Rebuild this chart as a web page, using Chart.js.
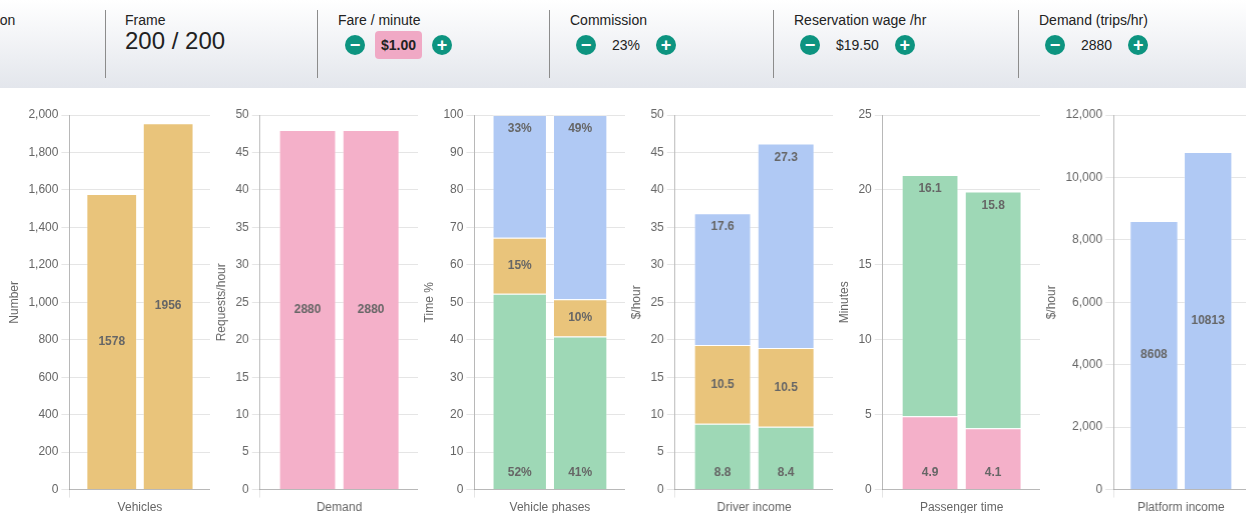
<!DOCTYPE html>
<html>
<head>
<meta charset="utf-8">
<script src="https://cdn.jsdelivr.net/npm/chart.js@4.4.1/dist/chart.umd.min.js"></script>
<style>
  body { margin: 0; width: 1246px; height: 513px; overflow: hidden; background: #fff;
         font-family: "Liberation Sans", Arial, sans-serif; color: #222; }
  #controls { position: absolute; left: 0; top: 0; width: 1246px; height: 88px;
              background: linear-gradient(#ffffff, #e3e6ec); overflow: hidden; }
  .sep { position: absolute; top: 10px; height: 68px; width: 1px; background: #8c8c8c; }
  .lbl { position: absolute; top: 12px; font-size: 14px; white-space: nowrap; }
  .big { position: absolute; top: 27px; font-size: 24px; }
  .row { position: absolute; top: 35px; height: 20px; display: flex; align-items: center; font-size: 14px; }
  .btn { width: 20px; height: 20px; border-radius: 50%; background: #0d9480; color: #fff;
         font-weight: bold; font-size: 18px; line-height: 20px; text-align: center; }
  .val { margin: 0 16px; }
  .pink { background: #f0a9c5; border-radius: 4px; padding: 6px 6px; font-weight: bold; margin: 0 10px; }
  #charts { position: absolute; left: 2.5px; top: 95px; width: 1245px; height: 423px; display: flex; }
  .cell { position: relative; width: 207.5px; height: 423px; }
</style>
</head>
<body>
<div id="controls">
  <div class="lbl" style="left:-50px">Simulation</div>
  <div class="sep" style="left:105px"></div>
  <div class="lbl" style="left:125px">Frame</div>
  <div class="big" style="left:125px">200 / 200</div>
  <div class="sep" style="left:317px"></div>
  <div class="lbl" style="left:338px">Fare / minute</div>
  <div class="row" style="left:345px"><div class="btn">&minus;</div><span class="pink">$1.00</span><div class="btn">+</div></div>
  <div class="sep" style="left:549px"></div>
  <div class="lbl" style="left:570px">Commission</div>
  <div class="row" style="left:576px"><div class="btn">&minus;</div><span class="val">23%</span><div class="btn">+</div></div>
  <div class="sep" style="left:773px"></div>
  <div class="lbl" style="left:794px">Reservation wage /hr</div>
  <div class="row" style="left:800px"><div class="btn">&minus;</div><span class="val">$19.50</span><div class="btn">+</div></div>
  <div class="sep" style="left:1018px"></div>
  <div class="lbl" style="left:1039px">Demand (trips/hr)</div>
  <div class="row" style="left:1045px"><div class="btn">&minus;</div><span class="val">2880</span><div class="btn">+</div></div>
</div>
<div id="charts">
  <div class="cell"><canvas id="c-vehicles"></canvas></div>
  <div class="cell"><canvas id="c-demand"></canvas></div>
  <div class="cell"><canvas id="c-phases"></canvas></div>
  <div class="cell"><canvas id="c-income"></canvas></div>
  <div class="cell"><canvas id="c-ptime"></canvas></div>
  <div class="cell"><canvas id="c-platform"></canvas></div>
</div>
<script>
// two bars per chart: current state vs equilibrium
const vehicleCounts = [1578, 1956];
const demandRates = [48, 48];            // labels show trips/hr
const phaseP3 = [52.3, 40.9];            // with rider
const phaseP2 = [14.9, 9.9];             // en route
const phaseP1 = [32.8, 49.2];            // idle
const incomeNet = [8.8, 8.4];
const incomeCost = [10.5, 10.5];
const incomeExtra = [17.6, 27.3];
const waitTime = [4.9, 4.1];
const rideTime = [16.1, 15.8];
const platformIncome = [8608, 10813];

const ORANGE = "#e9c47b";
const PINK = "#f4b0c9";
const GREEN = "#9ed8b6";
const BLUE = "#b0c9f4";

Chart.defaults.font.family = "'Liberation Sans', Arial, sans-serif";
Chart.defaults.font.size = 12;
Chart.defaults.color = "#666";

// draws the value inside each bar: bottom / middle / top of the stack
const barLabels = {
  id: "barLabels",
  afterDatasetsDraw(chart) {
    const ctx = chart.ctx;
    const sets = chart.data.datasets;
    ctx.save();
    ctx.font = "bold 12px 'Liberation Sans', Arial, sans-serif";
    ctx.fillStyle = "#666";
    ctx.textAlign = "center";
    ctx.textBaseline = "middle";
    sets.forEach((ds, i) => {
      const group = sets.filter(d => d.stack === ds.stack);
      const k = group.indexOf(ds);
      const meta = chart.getDatasetMeta(i);
      meta.data.forEach((bar, j) => {
        const v = ds.data[j];
        const top = Math.min(bar.y, bar.base), bottom = Math.max(bar.y, bar.base);
        let y = (top + bottom) / 2;
        if (group.length > 1 && k === 0) y = bottom - 16;
        else if (group.length > 1 && k === group.length - 1) y = top + 14;
        ctx.fillText(ds.fmt(v), bar.x, y);
      });
    });
    ctx.restore();
  }
};

function makeChart(id, label, title, max, step, layers) {
  // layers: [{values, color, fmt}] bottom to top; one stack per bar
  const datasets = [];
  ["now", "eq"].forEach((stack, b) => {
    layers.forEach(l => {
      datasets.push({
        data: [l.values[b]],
        stack: stack,
        backgroundColor: l.color,
        borderColor: "rgba(255,255,255,0.25)",
        borderWidth: 1,
        fmt: l.fmt
      });
    });
  });
  new Chart(document.getElementById(id), {
    type: "bar",
    data: { labels: [label], datasets: datasets },
    options: {
      responsive: true,
      maintainAspectRatio: false,
      animation: false,
      layout: { padding: { top: 20 } },
      plugins: { legend: { display: false }, tooltip: { enabled: false } },
      scales: {
        x: {
          stacked: true,
          grid: { color: "rgba(0,0,0,0.1)" },
          border: { color: "rgba(0,0,0,0.2)" }
        },
        y: {
          stacked: true,
          min: 0,
          max: max,
          ticks: { stepSize: step },
          title: { display: true, text: title },
          grid: { color: "rgba(0,0,0,0.1)" },
          border: { color: "rgba(0,0,0,0.2)" }
        }
      }
    },
    plugins: [barLabels]
  });
}

const whole = v => String(Math.round(v));
const oneDp = v => v.toFixed(1);
const pct = v => Math.round(v) + "%";

makeChart("c-vehicles", "Vehicles", "Number", 2000, 200,
  [{ values: vehicleCounts, color: ORANGE, fmt: whole }]);
makeChart("c-demand", "Demand", "Requests/hour", 50, 5,
  [{ values: demandRates, color: PINK, fmt: v => String(Math.round(v * 60)) }]);
makeChart("c-phases", "Vehicle phases", "Time %", 100, 10, [
  { values: phaseP3, color: GREEN, fmt: pct },
  { values: phaseP2, color: ORANGE, fmt: pct },
  { values: phaseP1, color: BLUE, fmt: pct }
]);
makeChart("c-income", "Driver income", "$/hour", 50, 5, [
  { values: incomeNet, color: GREEN, fmt: oneDp },
  { values: incomeCost, color: ORANGE, fmt: oneDp },
  { values: incomeExtra, color: BLUE, fmt: oneDp }
]);
makeChart("c-ptime", "Passenger time", "Minutes", 25, 5, [
  { values: waitTime, color: PINK, fmt: oneDp },
  { values: rideTime, color: GREEN, fmt: oneDp }
]);
makeChart("c-platform", "Platform income", "$/hour", 12000, 2000,
  [{ values: platformIncome, color: BLUE, fmt: whole }]);
</script>
</body>
</html>
